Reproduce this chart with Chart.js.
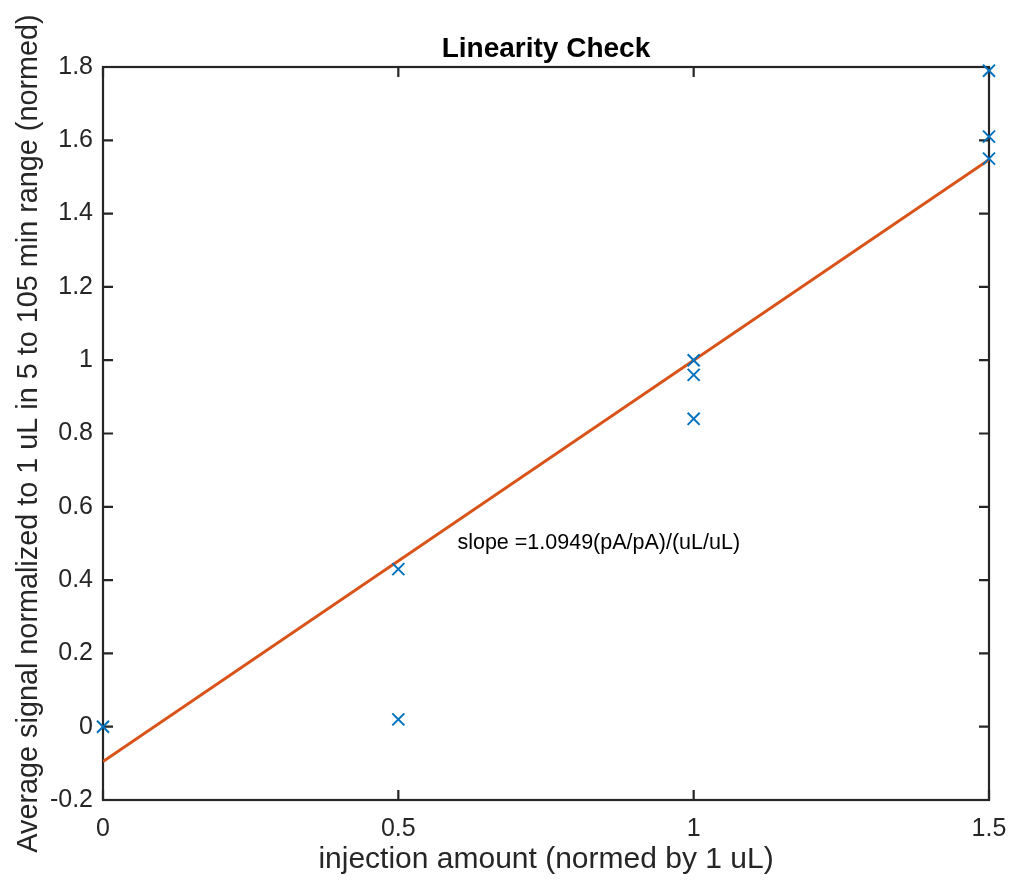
<!DOCTYPE html>
<html lang="en">
<head>
    <meta charset="UTF-8">
    <title>Linearity Check</title>
    <script src="https://cdn.jsdelivr.net/npm/chart.js@4.4.0/dist/chart.umd.min.js"></script>
    <style>
        body { margin: 0; background: #fff; }
        #wrap { position: relative; width: 1010px; height: 880px; }
    </style>
</head>
<body>
    <div id="wrap"><canvas id="chart"></canvas></div>

    <script>
        // measured points (injection amount vs normalized signal)
        const injX = [0, 0.5, 0.5, 1, 1, 1, 1.5, 1.5, 1.5];
        const signalY = [0, 0.43, 0.02, 1.0, 0.96, 0.84, 1.79, 1.61, 1.55];
        // linear fit end points
        const fitX = [0, 1.5];
        const fitY = [-0.095, 1.547];
        const xTicks = [0, 0.5, 1, 1.5];
        const yTicks = [-0.2, 0, 0.2, 0.4, 0.6, 0.8, 1, 1.2, 1.4, 1.6, 1.8];
        const slopeText = 'slope =1.0949(pA/pA)/(uL/uL)';

        const FONT = '"Liberation Sans", Arial, Helvetica, sans-serif';
        const AXIS = '#262626';

        // MATLAB-like box with inward ticks, title and text annotation
        const boxPlugin = {
            id: 'matlabBox',
            beforeDatasetsDraw(chart) {
                const { ctx, chartArea: a, scales: { x, y } } = chart;
                ctx.save();
                ctx.strokeStyle = AXIS;
                ctx.lineWidth = 2.2;
                ctx.strokeRect(a.left, a.top, a.right - a.left, a.bottom - a.top);
                ctx.beginPath();
                xTicks.forEach(v => {
                    const px = x.getPixelForValue(v);
                    ctx.moveTo(px, a.bottom); ctx.lineTo(px, a.bottom - 10);
                    ctx.moveTo(px, a.top); ctx.lineTo(px, a.top + 10);
                });
                yTicks.forEach(v => {
                    const py = y.getPixelForValue(v);
                    ctx.moveTo(a.left, py); ctx.lineTo(a.left + 10, py);
                    ctx.moveTo(a.right, py); ctx.lineTo(a.right - 10, py);
                });
                ctx.stroke();
                ctx.restore();
            },
            afterDraw(chart) {
                const { ctx, chartArea: a, scales: { x, y } } = chart;
                ctx.save();
                ctx.fillStyle = '#000';
                ctx.font = 'bold 28px ' + FONT;
                ctx.textAlign = 'center';
                ctx.textBaseline = 'alphabetic';
                ctx.fillText('Linearity Check', (a.left + a.right) / 2, 57);

                ctx.font = '21.5px ' + FONT;
                ctx.textAlign = 'left';
                ctx.textBaseline = 'middle';
                ctx.fillText(slopeText, x.getPixelForValue(0.6), y.getPixelForValue(0.5));
                ctx.restore();
            }
        };

        const fmt = v => String(Number(v.toFixed(1)));

        new Chart(document.getElementById('chart'), {
            type: 'scatter',
            data: {
                datasets: [{
                    label: 'data',
                    data: injX.map((v, i) => ({ x: v, y: signalY[i] })),
                    pointStyle: 'crossRot',
                    radius: 8.5,
                    borderColor: '#0072BD',
                    borderWidth: 2,
                    clip: false,
                    order: 1
                }, {
                    label: 'fit',
                    type: 'line',
                    data: fitX.map((v, i) => ({ x: v, y: fitY[i] })),
                    borderColor: '#D95319',
                    borderWidth: 3,
                    pointRadius: 0,
                    fill: false,
                    order: 2
                }]
            },
            options: {
                responsive: true,
                maintainAspectRatio: false,
                animation: false,
                layout: { padding: { top: 67, right: 21, left: 0, bottom: 0 } },
                plugins: {
                    legend: { display: false },
                    tooltip: { enabled: false }
                },
                scales: {
                    x: {
                        type: 'linear',
                        min: 0, max: 1.5,
                        afterFit: s => { s.height = 80; s.paddingLeft = 0; s.paddingRight = 0; },
                        afterBuildTicks: s => { s.ticks = xTicks.map(v => ({ value: v })); },
                        grid: { display: false, drawTicks: false },
                        border: { display: false },
                        ticks: {
                            padding: 14,
                            color: AXIS,
                            font: { family: FONT, size: 25 },
                            callback: fmt
                        },
                        title: {
                            display: true,
                            text: 'injection amount (normed by 1 uL)',
                            color: AXIS,
                            font: { family: FONT, size: 30 },
                            padding: { top: 0, bottom: 2 }
                        }
                    },
                    y: {
                        type: 'linear',
                        min: -0.2, max: 1.8,
                        afterFit: s => { s.width = 103; s.paddingTop = 0; s.paddingBottom = 0; },
                        afterBuildTicks: s => { s.ticks = yTicks.map(v => ({ value: v })); },
                        grid: { display: false, drawTicks: false },
                        border: { display: false },
                        ticks: {
                            padding: 10,
                            color: AXIS,
                            font: { family: FONT, size: 25 },
                            callback: fmt
                        },
                        title: {
                            display: true,
                            text: 'Average signal normalized to 1 uL in 5 to 105 min range (normed)',
                            color: AXIS,
                            font: { family: FONT, size: 28.8 },
                            padding: { top: 12, bottom: 0 }
                        }
                    }
                }
            },
            plugins: [boxPlugin]
        });
    </script>
</body>
</html>
